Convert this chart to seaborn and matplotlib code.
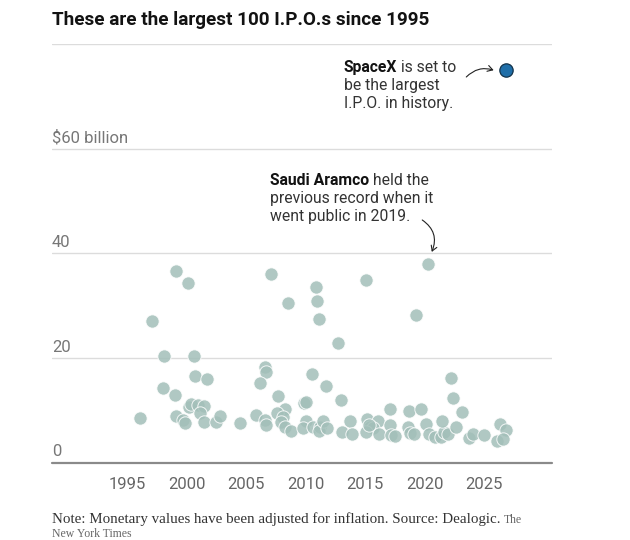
import matplotlib
matplotlib.use("Agg")
import matplotlib.pyplot as plt
import seaborn as sns
import pandas as pd

# ---- data ----
years = [
    1996.1, 1997.1, 1998.1, 1998.0, 1999.1, 1999.0, 1999.1, 1999.7, 1999.9,
    2000.1, 2000.6, 2000.7, 2001.7, 2000.2, 2000.4, 2001.0, 2001.5, 2001.1,
    2001.5, 2002.5, 2002.8, 2004.5, 2005.8, 2006.6, 2006.7, 2006.6, 2006.7,
    2006.2, 2007.1, 2007.7, 2008.3, 2007.6, 2008.1, 2007.9, 2008.3, 2008.8,
    2008.5, 2009.9, 2010.0, 2010.5, 2010.0, 2009.8, 2010.6, 2011.2, 2011.1,
    2011.5, 2011.8, 2010.9, 2011.0, 2011.1, 2011.7, 2012.7, 2013.0, 2013.7,
    2013.1, 2013.9, 2015.1, 2015.2, 2016.1, 2015.4, 2015.7, 2015.1, 2016.2,
    2015.3, 2017.1, 2017.1, 2017.2, 2017.5, 2018.7, 2018.6, 2018.8, 2019.1,
    2019.7, 2019.3, 2020.3, 2020.1, 2020.4, 2020.9, 2021.4, 2021.6, 2022.0,
    2021.5, 2022.2, 2022.4, 2023.1, 2022.6, 2023.7, 2024.1, 2025.0, 2026.3,
    2026.8, 2026.1, 2026.6,
]
values = [
    8.5, 27.2, 20.5, 14.4, 36.7, 12.9, 8.9, 8.2, 7.6,
    34.4, 20.5, 16.6, 16.1, 10.7, 11.3, 11.1, 10.9, 9.5,
    7.8, 7.9, 9.0, 7.7, 9.2, 8.2, 7.3, 18.4, 17.4,
    15.2, 36.1, 12.7, 10.4, 9.6, 8.7, 7.8, 6.8, 6.2,
    30.5, 11.4, 11.6, 17.0, 8.0, 6.6, 6.8, 6.8, 6.2,
    8.1, 6.6, 33.6, 31.0, 27.4, 14.7, 23.0, 12.0, 8.1,
    5.9, 5.5, 34.9, 8.4, 8.1, 6.9, 6.6, 6.0, 5.6,
    7.3, 10.4, 7.3, 5.3, 5.2, 9.9, 6.9, 5.8, 5.5,
    10.4, 28.2, 38.0, 7.4, 5.6, 5.0, 4.9, 6.0, 5.5,
    8.0, 16.3, 12.5, 9.8, 6.9, 4.7, 5.6, 5.3, 7.4,
    6.3, 4.2, 4.5,
]
spacex_year = [2026.8]
spacex_value = [75.0]

x_ticks = [1995, 2000, 2005, 2010, 2015, 2020, 2025]
y_grid = [20, 40, 60, 80]
y_labels = {0: "0", 20: "20", 40: "40", 60: "$60 billion"}

title = "These are the largest 100 I.P.O.s since 1995"
note = "Note: Monetary values have been adjusted for inflation. Source: Dealogic."

# ---- figure ----
sns.set_theme(style="white")
plt.rcParams["font.family"] = ["Roboto", "DejaVu Sans"]

W, H = 630, 540
fig = plt.figure(figsize=(W / 100, H / 100), dpi=100)
ax_left, ax_right, ax_top, ax_bot = 52, 552, 44, 463
ax = fig.add_axes([ax_left / W, 1 - ax_bot / H, (ax_right - ax_left) / W, (ax_bot - ax_top) / H])

def fpx(x, y):
    return (x / W, 1 - y / H)

df = pd.DataFrame({"year": years, "value": values})
sns.scatterplot(data=df, x="year", y="value", ax=ax, s=92, color="#a3bfb9",
                alpha=0.85, edgecolor="white", linewidth=0.7, zorder=3)
sx = pd.DataFrame({"year": spacex_year, "value": spacex_value})
sns.scatterplot(data=sx, x="year", y="value", ax=ax, s=92, color="#1f6ea8",
                edgecolor="#12324a", linewidth=0.9, zorder=4)

ax.set_xlim(1988.7, 2030.7)
ax.set_ylim(0, 80)
for g in y_grid:
    ax.axhline(g, color="#dcdcdc", lw=1.0, zorder=1)
ax.axhline(0, color="#8a8a8a", lw=1.6, zorder=2, clip_on=False)
for s in ax.spines.values():
    s.set_visible(False)
ax.set_xlabel("")
ax.set_ylabel("")
ax.set_yticks([])
ax.set_xticks(x_ticks)
ax.set_xticklabels([str(t) for t in x_ticks])
ax.tick_params(axis="x", length=0, pad=10, labelsize=12, labelcolor="#666666")

# y labels sitting above gridlines at left edge
for v, lab in y_labels.items():
    ax.text(0, v + 0.7, lab, transform=ax.get_yaxis_transform(), ha="left", va="bottom",
            fontsize=12, color="#777777")

# title
fig.text(*fpx(52, 20), title, ha="left", va="center", fontsize=13.6,
         fontweight="bold", color="#121212")

# mixed-weight annotation helper
fig.canvas.draw()
renderer = fig.canvas.get_renderer()

def mixed_line(x, y, bold, rest, size=11.3):
    t1 = fig.text(*fpx(x, y), bold, ha="left", va="baseline", fontsize=size,
                  fontweight="bold", color="#121212")
    bb = t1.get_window_extent(renderer=renderer)
    fig.text(*fpx(x + bb.width, y), rest, ha="left", va="baseline", fontsize=size,
             color="#333333")

def plain_line(x, y, txt, size=11.3):
    fig.text(*fpx(x, y), txt, ha="left", va="baseline", fontsize=size, color="#333333")

# SpaceX annotation
mixed_line(344, 72, "SpaceX", " is set to")
plain_line(344, 90, "be the largest")
plain_line(344, 108, "I.P.O. in history.")
ax.annotate("", xy=(2025.8, 75.0), xytext=(2023.5, 73.7), xycoords="data",
            arrowprops=dict(arrowstyle="->,head_length=0.3,head_width=0.18",
                            color="#222222", lw=0.8, shrinkA=0, shrinkB=0,
                            connectionstyle="arc3,rad=-0.3"))

# Aramco annotation
mixed_line(270, 185, "Saudi Aramco", " held the")
plain_line(270, 203, "previous record when it")
plain_line(270, 221, "went public in 2019.")
ax.annotate("", xy=(2020.6, 40.3), xytext=(2019.8, 46.4), xycoords="data",
            arrowprops=dict(arrowstyle="->,head_length=0.3,head_width=0.18",
                            color="#222222", lw=0.8, shrinkA=0, shrinkB=0,
                            connectionstyle="arc3,rad=-0.4"))

# footer
ft = fig.text(*fpx(52, 523), note + " ", ha="left", va="baseline", fontsize=10.8,
              family=["Liberation Serif"], color="#333333")
bb = ft.get_window_extent(renderer=renderer)
fig.text(*fpx(52 + bb.width, 523), "The", ha="left", va="baseline", fontsize=8.5,
         family=["Liberation Serif"], color="#666666")
fig.text(*fpx(52, 537), "New York Times", ha="left", va="baseline", fontsize=8.5,
         family=["Liberation Serif"], color="#666666")

fig.savefig("out.png", dpi=100)
